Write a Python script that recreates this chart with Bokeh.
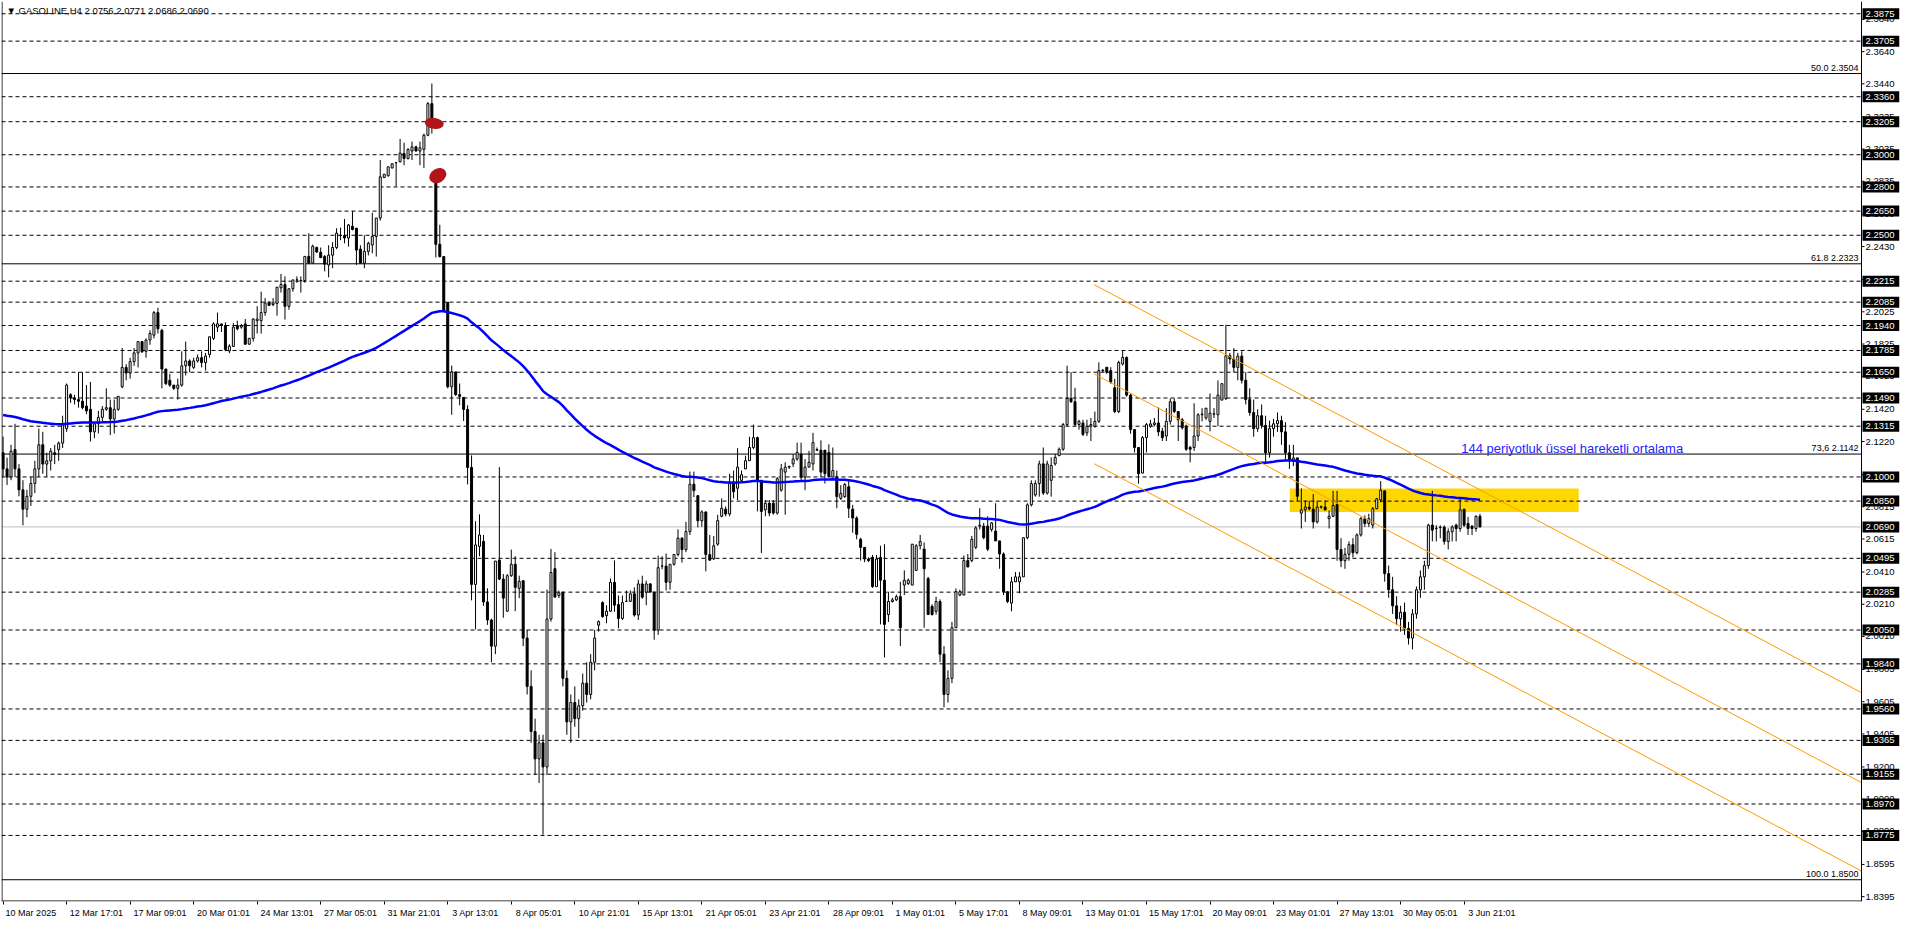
from bokeh.plotting import figure
from bokeh.models import Range1d, LinearAxis, FixedTicker, Label
from bokeh.core.properties import value
from bokeh.embed import file_html
from bokeh.resources import INLINE

# ---------------- data (H4 bars, index 0 = 10 Mar 2025 01:01) ----------------
opens = [
    2.115, 2.105, 2.100, 2.117, 2.105, 2.092, 2.080, 2.088, 2.096, 2.105,
    2.120, 2.108, 2.110, 2.115, 2.117, 2.121, 2.130, 2.151, 2.149, 2.148,
    2.147, 2.144, 2.142, 2.128, 2.133, 2.137, 2.142, 2.143, 2.136, 2.142,
    2.156, 2.168, 2.1645, 2.1716, 2.177, 2.184, 2.178, 2.185, 2.188, 2.202,
    2.191, 2.167, 2.160, 2.157, 2.155, 2.157, 2.169, 2.172, 2.168, 2.172,
    2.174, 2.171, 2.176, 2.186, 2.193, 2.195, 2.194, 2.1782, 2.181, 2.194,
    2.193, 2.195, 2.1824, 2.186, 2.197, 2.197, 2.202, 2.208, 2.207, 2.2077,
    2.2174, 2.2194, 2.2059, 2.2168, 2.2223, 2.2219, 2.2219, 2.2369, 2.2327, 2.2424,
    2.2394, 2.2369, 2.2316, 2.2377, 2.2424, 2.2499, 2.2499, 2.2483, 2.2556, 2.2544,
    2.2414, 2.2327, 2.2400, 2.244, 2.2493, 2.2607, 2.2859, 2.2869, 2.2918, 2.2951,
    2.2957, 2.3007, 2.2977, 2.3023, 2.3049, 2.3023, 2.3033, 2.3121, 2.3317, 2.2869,
    2.2444, 2.2368, 2.2084, 2.156, 2.1652, 2.1511, 2.1494, 2.1419, 2.1059, 2.0333,
    2.0569, 2.060, 2.0224, 2.0112, 1.995, 2.0484, 2.0366, 2.0167, 2.0387, 2.0458,
    2.0309, 2.0356, 2.000, 1.970, 1.942, 1.925, 1.935, 1.920, 2.0118, 2.0431,
    2.0264, 2.0285, 1.975, 1.948, 1.960, 1.950, 1.958, 1.972, 1.965, 1.985,
    2.008, 2.022, 2.0139, 2.0167, 2.0346, 2.0208, 2.0122, 2.0228, 2.0228, 2.0275,
    2.0143, 2.0336, 2.0285, 2.0336, 2.0285, 2.005, 2.0447, 2.0447, 2.0346, 2.0458,
    2.0519, 2.062, 2.0549, 2.0661, 2.0955, 2.0884, 2.0728, 2.0783, 2.0519, 2.0492,
    2.0583, 2.0756, 2.080, 2.077, 2.0969, 2.093, 2.0979, 2.105, 2.1101, 2.1183,
    2.1244, 2.0979, 2.0796, 2.0837, 2.0837, 2.0776, 2.0918, 2.103, 2.1061, 2.1081,
    2.1111, 2.1142, 2.0999, 2.1061, 2.1081, 2.1166, 2.1166, 2.1166, 2.1152, 2.0999,
    2.0999, 2.0867, 2.0878, 2.0939, 2.080, 2.0745, 2.0613, 2.0563, 2.0491, 2.0501,
    2.0319, 2.0501, 2.0359, 2.0146, 2.0227, 2.0237, 2.0257, 2.0329, 2.0339, 2.0329,
    2.042, 2.0573, 2.0552, 2.0369, 2.0197, 2.0166, 2.0227, 1.990, 1.965, 1.975,
    2.0064, 2.0267, 2.0267, 2.0481, 2.0481, 2.0563, 2.0695, 2.0695, 2.0695, 2.0674,
    2.0664, 2.0603, 2.0522, 2.0288, 2.0217, 2.0349, 2.0349, 2.038, 2.0623, 2.0827,
    2.0888, 2.0959, 2.1081, 2.090, 2.0979, 2.1081, 2.1132, 2.1172, 2.1325, 2.1487,
    2.1467, 2.1325, 2.1335, 2.1274, 2.1315, 2.1315, 2.1345, 2.166, 2.1681, 2.166,
    2.1553, 2.1406, 2.1701, 2.1742, 2.1508, 2.1294, 2.1183, 2.1024, 2.1244, 2.1315,
    2.1325, 2.1335, 2.1284, 2.1254, 2.1345, 2.1467, 2.1406, 2.1355, 2.1315, 2.1183,
    2.1183, 2.1254, 2.1386, 2.1366, 2.1345, 2.139, 2.1386, 2.1477, 2.1487, 2.1752,
    2.1732, 2.168, 2.175, 2.160, 2.148, 2.140, 2.130, 2.138, 2.132, 2.115,
    2.130, 2.133, 2.135, 2.128, 2.115, 2.110, 2.1118, 2.0775, 2.0796, 2.0813,
    2.080, 2.0721, 2.0813, 2.0813, 2.0741, 2.0756, 2.0829, 2.055, 2.048, 2.052,
    2.058, 2.053, 2.064, 2.0741, 2.0711, 2.0701, 2.0803, 2.0857, 2.0914, 2.040,
    2.030, 2.020, 2.012, 2.016, 2.006, 2.000, 2.015, 2.030, 2.038, 2.045,
    2.0701, 2.068, 2.0686, 2.0688, 2.060, 2.066, 2.0701, 2.068, 2.080, 2.0711,
    2.0695, 2.068, 2.0756,
]
highs = [
    2.125, 2.112, 2.120, 2.133, 2.108, 2.098, 2.092, 2.100, 2.110, 2.130,
    2.128, 2.115, 2.118, 2.120, 2.122, 2.138, 2.158, 2.152, 2.151, 2.165,
    2.165, 2.157, 2.159, 2.133, 2.141, 2.144, 2.155, 2.148, 2.148, 2.150,
    2.180, 2.170, 2.174, 2.180, 2.184, 2.184, 2.186, 2.191, 2.203, 2.205,
    2.192, 2.167, 2.164, 2.157, 2.161, 2.178, 2.184, 2.173, 2.174, 2.176,
    2.178, 2.177, 2.187, 2.196, 2.202, 2.195, 2.196, 2.1824, 2.1955, 2.197,
    2.195, 2.198, 2.1863, 2.1985, 2.206, 2.215, 2.211, 2.209, 2.211, 2.2178,
    2.226, 2.2245, 2.2168, 2.2223, 2.2245, 2.2245, 2.2369, 2.2513, 2.2442, 2.243,
    2.2424, 2.2377, 2.2438, 2.2458, 2.2544, 2.2548, 2.2601, 2.257, 2.265, 2.2544,
    2.2438, 2.25, 2.246, 2.264, 2.2607, 2.2967, 2.288, 2.2925, 2.2944, 2.2955,
    2.3098, 2.3075, 2.304, 2.3082, 2.3055, 2.3082, 2.3131, 2.3327, 2.3442, 2.2869,
    2.2565, 2.2368, 2.2084, 2.1691, 2.1652, 2.158, 2.1494, 2.1445, 2.1134, 2.0725,
    2.0768, 2.064, 2.0309, 2.012, 2.0478, 2.1061, 2.0397, 2.0397, 2.0549, 2.0508,
    2.0387, 2.0356, 2.005, 1.980, 1.950, 1.940, 1.940, 2.0301, 2.0553, 2.0533,
    2.0295, 2.0285, 1.980, 1.965, 1.970, 1.962, 1.978, 1.985, 1.990, 2.005,
    2.011, 2.0228, 2.0204, 2.037, 2.0482, 2.0264, 2.0264, 2.0295, 2.0295, 2.0315,
    2.0362, 2.0387, 2.0356, 2.0342, 2.0285, 2.0512, 2.0508, 2.0525, 2.0458, 2.0519,
    2.0675, 2.0626, 2.0722, 2.1033, 2.1033, 2.0884, 2.0793, 2.0783, 2.064, 2.0633,
    2.0765, 2.0867, 2.0817, 2.102, 2.104, 2.1179, 2.104, 2.1132, 2.125, 2.1325,
    2.125, 2.0979, 2.0857, 2.0857, 2.0857, 2.0999, 2.1081, 2.1091, 2.107, 2.1142,
    2.1213, 2.1213, 2.1111, 2.1162, 2.1274, 2.1183, 2.1227, 2.1166, 2.1203, 2.1183,
    2.104, 2.0949, 2.0963, 2.0979, 2.0827, 2.0756, 2.0623, 2.0563, 2.0501, 2.0516,
    2.0516, 2.0573, 2.0583, 2.0288, 2.025, 2.027, 2.0349, 2.042, 2.037, 2.0583,
    2.0583, 2.064, 2.0593, 2.038, 2.021, 2.0257, 2.024, 1.995, 1.980, 2.010,
    2.0308, 2.030, 2.0512, 2.0522, 2.0634, 2.0695, 2.0806, 2.0715, 2.0756, 2.072,
    2.0837, 2.0603, 2.0532, 2.0288, 2.038, 2.041, 2.041, 2.0623, 2.0837, 2.0979,
    2.0979, 2.1101, 2.1183, 2.1101, 2.1122, 2.1142, 2.1183, 2.1335, 2.1691, 2.165,
    2.1553, 2.1355, 2.1355, 2.1355, 2.1366, 2.1406, 2.1711, 2.167, 2.1681, 2.1681,
    2.1609, 2.1721, 2.1782, 2.1748, 2.1518, 2.1294, 2.1183, 2.1254, 2.1335, 2.1355,
    2.1366, 2.1431, 2.1305, 2.1427, 2.1487, 2.1487, 2.1406, 2.1366, 2.1325, 2.1193,
    2.1457, 2.1396, 2.1427, 2.1427, 2.1518, 2.1427, 2.1599, 2.1579, 2.1945, 2.177,
    2.180, 2.177, 2.178, 2.165, 2.155, 2.148, 2.142, 2.145, 2.138, 2.135,
    2.136, 2.140, 2.138, 2.134, 2.120, 2.1199, 2.112, 2.0929, 2.0853, 2.0853,
    2.0894, 2.0853, 2.0823, 2.0853, 2.0792, 2.0914, 2.0914, 2.062, 2.056, 2.060,
    2.062, 2.065, 2.0752, 2.0762, 2.0772, 2.0813, 2.087, 2.0975, 2.0914, 2.045,
    2.038, 2.026, 2.020, 2.022, 2.010, 2.018, 2.032, 2.042, 2.048, 2.071,
    2.0914, 2.070, 2.070, 2.070, 2.068, 2.070, 2.071, 2.0874, 2.080, 2.0752,
    2.070, 2.0762, 2.0771,
]
lows = [
    2.100, 2.095, 2.098, 2.100, 2.088, 2.070, 2.075, 2.082, 2.090, 2.100,
    2.102, 2.100, 2.104, 2.108, 2.110, 2.118, 2.128, 2.146, 2.145, 2.143,
    2.142, 2.139, 2.122, 2.124, 2.127, 2.134, 2.141, 2.126, 2.127, 2.141,
    2.155, 2.160, 2.161, 2.169, 2.168, 2.177, 2.174, 2.182, 2.186, 2.189,
    2.155, 2.157, 2.156, 2.154, 2.148, 2.156, 2.163, 2.165, 2.167, 2.171,
    2.168, 2.166, 2.174, 2.185, 2.190, 2.190, 2.178, 2.1768, 2.1808, 2.191,
    2.192, 2.182, 2.182, 2.184, 2.189, 2.189, 2.200, 2.206, 2.206, 2.2001,
    2.2144, 2.1977, 2.2038, 2.215, 2.2205, 2.2144, 2.2205, 2.2321, 2.2321, 2.239,
    2.2361, 2.2276, 2.2239, 2.2296, 2.2414, 2.247, 2.245, 2.243, 2.253, 2.2316,
    2.2327, 2.2296, 2.2375, 2.2388, 2.2368, 2.2591, 2.2855, 2.2865, 2.2915, 2.2804,
    2.2951, 2.2935, 2.297, 2.2967, 2.302, 2.2935, 2.2918, 2.3115, 2.3131, 2.2362,
    2.2362, 2.2028, 2.155, 2.1386, 2.1504, 2.1445, 2.1347, 2.0954, 2.0234, 2.0054,
    2.0508, 2.020, 2.0082, 1.985, 1.990, 2.036, 2.0126, 2.0163, 2.038, 2.0167,
    2.0248, 1.995, 1.965, 1.935, 1.915, 1.910, 1.878, 1.915, 2.0102, 2.0254,
    2.0248, 1.970, 1.940, 1.935, 1.945, 1.938, 1.955, 1.960, 1.962, 1.980,
    2.004, 2.0126, 2.0092, 2.0163, 2.0163, 2.0061, 2.0112, 2.0224, 2.0224, 2.0133,
    2.0112, 2.0244, 2.0204, 2.0285, 1.999, 2.002, 2.0427, 2.0295, 2.030, 2.045,
    2.0508, 2.0468, 2.0533, 2.064, 2.0874, 2.0687, 2.0691, 2.0414, 2.0478, 2.0484,
    2.0573, 2.075, 2.0756, 2.0756, 2.0867, 2.0857, 2.0969, 2.105, 2.1101, 2.1172,
    2.0786, 2.0528, 2.0756, 2.0756, 2.0766, 2.0766, 2.0908, 2.0766, 2.105, 2.1061,
    2.1101, 2.0979, 2.0918, 2.1061, 2.104, 2.1162, 2.0999, 2.0959, 2.0999, 2.0999,
    2.0806, 2.0857, 2.087, 2.0745, 2.0654, 2.0613, 2.0481, 2.0471, 2.0471, 2.0312,
    2.0319, 2.0085, 1.988, 2.010, 2.022, 2.023, 1.995, 2.0267, 2.0329, 2.0329,
    2.042, 2.055, 2.0064, 2.0146, 2.014, 2.0146, 1.985, 1.957, 1.960, 1.972,
    2.0064, 2.026, 2.0267, 2.0441, 2.0471, 2.0552, 2.0674, 2.0613, 2.054, 2.066,
    2.0603, 2.043, 2.0267, 2.0217, 2.0166, 2.0349, 2.0278, 2.038, 2.0613, 2.0817,
    2.0878, 2.0878, 2.0888, 2.089, 2.0878, 2.1071, 2.1132, 2.1162, 2.1315, 2.146,
    2.1315, 2.1294, 2.1254, 2.1254, 2.1223, 2.1305, 2.1335, 2.165, 2.164, 2.1579,
    2.1396, 2.1396, 2.1691, 2.1498, 2.1268, 2.1152, 2.0959, 2.1024, 2.1152, 2.1305,
    2.1315, 2.1254, 2.1223, 2.1223, 2.1325, 2.1396, 2.1223, 2.1294, 2.1162, 2.1091,
    2.1162, 2.1223, 2.1345, 2.1355, 2.1284, 2.1366, 2.1315, 2.1477, 2.1477, 2.170,
    2.165, 2.160, 2.158, 2.145, 2.138, 2.125, 2.128, 2.130, 2.108, 2.112,
    2.125, 2.128, 2.120, 2.110, 2.105, 2.1067, 2.085, 2.068, 2.0721, 2.0792,
    2.068, 2.0711, 2.0803, 2.0792, 2.068, 2.0752, 2.048, 2.044, 2.043, 2.048,
    2.050, 2.052, 2.063, 2.069, 2.069, 2.068, 2.080, 2.0843, 2.035, 2.025,
    2.015, 2.008, 2.004, 2.002, 1.996, 1.993, 2.012, 2.025, 2.030, 2.043,
    2.060, 2.060, 2.062, 2.058, 2.055, 2.060, 2.060, 2.066, 2.069, 2.064,
    2.064, 2.066, 2.0686,
]
closes = [
    2.105, 2.100, 2.116, 2.105, 2.092, 2.080, 2.088, 2.096, 2.105, 2.120,
    2.108, 2.110, 2.116, 2.114, 2.121, 2.133, 2.157, 2.149, 2.148, 2.147,
    2.143, 2.141, 2.128, 2.133, 2.137, 2.142, 2.143, 2.136, 2.142, 2.150,
    2.168, 2.1645, 2.1716, 2.177, 2.184, 2.1777, 2.185, 2.189, 2.202, 2.192,
    2.167, 2.158, 2.157, 2.155, 2.157, 2.169, 2.172, 2.169, 2.172, 2.174,
    2.171, 2.175, 2.187, 2.195, 2.195, 2.194, 2.179, 2.1812, 2.193, 2.192,
    2.194, 2.1824, 2.186, 2.198, 2.198, 2.202, 2.208, 2.2065, 2.208, 2.2178,
    2.2194, 2.2059, 2.2168, 2.2223, 2.2223, 2.2219, 2.2369, 2.2327, 2.2432, 2.2397,
    2.2361, 2.2321, 2.2377, 2.2424, 2.2513, 2.2499, 2.2483, 2.2564, 2.2536, 2.2408,
    2.2327, 2.2400, 2.245, 2.2493, 2.2607, 2.2863, 2.2879, 2.2925, 2.2944, 2.2951,
    2.301, 2.2977, 2.3033, 2.3049, 2.3023, 2.3043, 2.3121, 2.3317, 2.3187, 2.2444,
    2.2368, 2.2034, 2.156, 2.1652, 2.1511, 2.150, 2.1419, 2.1059, 2.0333, 2.0578,
    2.064, 2.0224, 2.0112, 1.995, 2.0478, 2.0366, 2.0248, 2.0387, 2.0458, 2.0315,
    2.0352, 2.000, 1.970, 1.942, 1.925, 1.935, 1.920, 2.0118, 2.0407, 2.0254,
    2.0281, 1.975, 1.948, 1.960, 1.950, 1.958, 1.972, 1.965, 1.985, 2.000,
    2.0102, 2.0133, 2.0167, 2.0346, 2.0204, 2.0122, 2.022, 2.0228, 2.0275, 2.0143,
    2.0336, 2.0254, 2.0336, 2.0285, 2.005, 2.0437, 2.0447, 2.0346, 2.0458, 2.0519,
    2.062, 2.0549, 2.0661, 2.0955, 2.0915, 2.0728, 2.0783, 2.0519, 2.0484, 2.0573,
    2.0729, 2.0806, 2.077, 2.0959, 2.0908, 2.1061, 2.1014, 2.1101, 2.1183, 2.1244,
    2.0979, 2.0786, 2.0837, 2.0776, 2.0776, 2.0989, 2.105, 2.1061, 2.1065, 2.1111,
    2.1152, 2.0999, 2.1061, 2.1091, 2.1213, 2.117, 2.103, 2.102, 2.1004, 2.104,
    2.0878, 2.0898, 2.0953, 2.0806, 2.0745, 2.0644, 2.0563, 2.0491, 2.0481, 2.0319,
    2.0491, 2.0359, 2.0085, 2.0227, 2.0237, 2.0257, 2.0064, 2.0359, 2.0359, 2.0583,
    2.0573, 2.060, 2.043, 2.0146, 2.0146, 2.0227, 1.990, 1.965, 1.975, 2.0064,
    2.0288, 2.0288, 2.0481, 2.0441, 2.0613, 2.0684, 2.070, 2.0623, 2.0552, 2.0715,
    2.0603, 2.0522, 2.0288, 2.0227, 2.0349, 2.038, 2.038, 2.0623, 2.0827, 2.0959,
    2.0959, 2.1081, 2.090, 2.1081, 2.1071, 2.1122, 2.1172, 2.1325, 2.1487, 2.1467,
    2.1325, 2.1345, 2.1264, 2.1315, 2.1325, 2.1345, 2.166, 2.1662, 2.165, 2.1589,
    2.1406, 2.1711, 2.1742, 2.1508, 2.1294, 2.1183, 2.102, 2.1244, 2.1325, 2.1329,
    2.1335, 2.128, 2.1244, 2.1345, 2.1467, 2.1406, 2.1355, 2.1305, 2.1172, 2.1172,
    2.1254, 2.1386, 2.139, 2.1427, 2.1396, 2.1392, 2.1508, 2.1579, 2.1752, 2.1732,
    2.168, 2.175, 2.160, 2.148, 2.140, 2.130, 2.138, 2.132, 2.115, 2.130,
    2.133, 2.135, 2.128, 2.115, 2.110, 2.1118, 2.088, 2.0796, 2.0813, 2.0803,
    2.0721, 2.0813, 2.0815, 2.0796, 2.0756, 2.0823, 2.055, 2.048, 2.052, 2.058,
    2.053, 2.064, 2.0741, 2.0711, 2.0741, 2.0803, 2.0864, 2.0918, 2.040, 2.030,
    2.020, 2.012, 2.016, 2.006, 2.000, 2.015, 2.030, 2.038, 2.045, 2.0701,
    2.067, 2.0682, 2.0688, 2.060, 2.066, 2.069, 2.068, 2.0796, 2.0701, 2.068,
    2.068, 2.0756, 2.069,
]

ema_period = 144
ema_start = 2.1385          # value of the moving average at the first visible bar

time_labels = ["10 Mar 2025", "12 Mar 17:01", "17 Mar 09:01", "20 Mar 01:01", "24 Mar 13:01",
               "27 Mar 05:01", "31 Mar 21:01", "3 Apr 13:01", "8 Apr 05:01", "10 Apr 21:01",
               "15 Apr 13:01", "21 Apr 05:01", "23 Apr 21:01", "28 Apr 09:01", "1 May 01:01",
               "5 May 17:01", "8 May 09:01", "13 May 01:01", "15 May 17:01", "20 May 09:01",
               "23 May 01:01", "27 May 13:01", "30 May 05:01", "3 Jun 21:01"]
bars_per_label = 16

price_ticks = [2.3840, 2.3640, 2.3440, 2.3235, 2.3035, 2.2835, 2.2630, 2.2430, 2.2225, 2.2025,
               2.1825, 2.1625, 2.1420, 2.1220, 2.1015, 2.0815, 2.0615, 2.0410, 2.0210, 2.0010,
               1.9805, 1.9605, 1.9405, 1.9200, 1.9000, 1.8800, 1.8595, 1.8395]

level_lines = [2.3875, 2.3705, 2.3360, 2.3205, 2.3000, 2.2800, 2.2650, 2.2500, 2.2215, 2.2085,
               2.1940, 2.1785, 2.1650, 2.1490, 2.1315, 2.1000, 2.0850, 2.0495, 2.0285, 2.0050,
               1.9840, 1.9560, 1.9365, 1.9155, 1.8970, 1.8775]
fib_levels = [2.3504, 2.2323, 2.1142, 1.8500]
fib_names = ["50.0", "61.8", "73,6", "100.0"]
bid_price = 2.0690

channel_x = [274.85, 468.1]
channel_upper = [2.2193, 1.9661]
channel_middle = [2.1639, 1.9103]
channel_lower = [2.1082, 1.8554]

zone_x = [324.1, 396.85]
zone_y = [2.0782, 2.0929]

marks_x = [108.6, 109.5]
marks_y = [2.3195, 2.2870]

title_text = "\u25bc GASOLINE,H4  2.0756 2.0771 2.0686 2.0690"
ma_text = "144 periyotluk \u00fcssel hareketli ortalama"

# ---------------- geometry ----------------
W, H = 1900, 920
BL, BR, BT, BB = 1, 1, 1, 15
X0, X1 = -0.4, 468.1          # chart area in bar units
Y0, Y1 = 1.8365, 2.3951       # chart area in price units
AXIS_PX = 38                  # width of the price scale strip
FONT = "Liberation Sans"

frame_w = W - BL - BR
frame_h = H - BT - BB
ppb = (frame_w - AXIS_PX) / (X1 - X0)     # pixels per bar
XE = X0 + frame_w / ppb                   # right end incl. price scale strip
ppy = frame_h / (Y1 - Y0)                 # pixels per price unit

p = figure(width=W, height=H, x_range=Range1d(X0, XE), y_range=Range1d(Y0, Y1),
           output_backend="svg", toolbar_location=None,
           x_axis_location=None, y_axis_location=None,
           min_border_left=BL, min_border_right=BR, min_border_top=BT, min_border_bottom=BB,
           background_fill_color="white", border_fill_color="white")
p.grid.visible = False
p.outline_line_color = None

n = min(len(opens), len(highs), len(lows), len(closes))
idx = list(range(n))
o = opens[:n]
c = closes[:n]
hi = [max(highs[i], o[i], c[i]) for i in idx]
lo = [min(lows[i], o[i], c[i]) for i in idx]

# yellow zone (behind everything)
p.quad(left=[zone_x[0]], right=[zone_x[1]], bottom=[zone_y[0]], top=[zone_y[1]],
       fill_color="#FFD700", line_color=None)

# dashed horizontal levels
p.multi_line(xs=[[X0, X1] for _ in level_lines], ys=[[v, v] for v in level_lines],
             line_color="black", line_width=1, line_dash="4 3")
# fibonacci solid levels
p.multi_line(xs=[[X0, X1] for _ in fib_levels], ys=[[v, v] for v in fib_levels],
             line_color="black", line_width=1)
# bid line
p.line(x=[X0, X1], y=[bid_price, bid_price], line_color="#C0C0C0", line_width=1)

# candles
p.segment(x0=idx, y0=lo, x1=idx, y1=hi, line_color="black", line_width=1)
p.vbar(x=idx, top=[max(a, b) for a, b in zip(o, c)], bottom=[min(a, b) for a, b in zip(o, c)],
       width=0.5, fill_color=["white" if cc >= oo else "black" for oo, cc in zip(o, c)],
       line_color="black", line_width=1)

# 144 EMA
alpha = 2.0 / (ema_period + 1)
ema = [ema_start]
for v in c[1:]:
    ema.append(ema[-1] + alpha * (v - ema[-1]))
p.line(x=idx, y=ema, line_color="#0000FF", line_width=2.5)

# channel
for ys in (channel_upper, channel_middle, channel_lower):
    p.line(x=channel_x, y=ys, line_color="#FF9900", line_width=1)

# red marks
p.ellipse(x=marks_x, y=marks_y, width=[19, 18], height=[11, 14], angle=[-0.15, 0.55],
          width_units="screen", height_units="screen", fill_color="#B3141B", line_color=None)

# chart borders: left edge, bottom edge, price scale line
xl = X0 + 0.5 / ppb
yb = Y0 + 0.5 / ppy
p.segment(x0=[xl, X0, X1], y0=[Y0, yb, Y0], x1=[xl, X1, X1], y1=[Y1, yb, Y1],
          line_color="black", line_width=1)

# price scale: ticks and labels
p.segment(x0=[X1] * len(price_ticks), y0=price_ticks,
          x1=[X1 + 3 / ppb] * len(price_ticks), y1=price_ticks, line_color="black", line_width=1)
p.text(x=[X1 + 4 / ppb] * len(price_ticks), y=price_ticks, text=[f"{t:.4f}" for t in price_ticks],
       text_font=value(FONT), text_font_size="9.5px", text_color="black",
       text_align="left", text_baseline="middle")

# black price boxes on the scale
box_levels = level_lines + [bid_price]
p.rect(x=[X1 + 19.5 / ppb] * len(box_levels), y=box_levels, width=37, height=11,
       width_units="screen", height_units="screen", fill_color="black", line_color=None)
p.text(x=[X1 + 4 / ppb] * len(box_levels), y=box_levels, text=[f"{v:.4f}" for v in box_levels],
       text_font=value(FONT), text_font_size="9.5px", text_color="white",
       text_align="left", text_baseline="middle")

# bottom time axis: small tick at bar, label to the right of it
tick_bars = [i * bars_per_label for i in range(len(time_labels))]
centers = []
for tb, lab in zip(tick_bars, time_labels):
    wpx = 4.6 * len(lab)
    centers.append(round((tb + (2 + wpx / 2) / ppb) * 4) / 4)
xax = LinearAxis(ticker=FixedTicker(ticks=centers, minor_ticks=tick_bars),
                 major_label_overrides={cc: lab for cc, lab in zip(centers, time_labels)})
xax.major_tick_out = 0
xax.major_tick_in = 0
xax.minor_tick_out = 3
xax.minor_tick_in = 0
xax.minor_tick_line_color = "black"
xax.axis_line_color = None
xax.major_label_standoff = 3
xax.major_label_text_font = FONT
xax.major_label_text_font_size = "9px"
xax.major_label_text_color = "black"
p.add_layout(xax, "below")

# fibonacci labels
for v, name in zip(fib_levels, fib_names):
    p.add_layout(Label(x=X1, y=v, x_offset=-3, y_offset=1, text=f"{name} {v:.4f}",
                       text_align="right", text_baseline="bottom", text_font=FONT,
                       text_font_size="9px", text_color="black"))

# title and MA caption
p.add_layout(Label(x=X0, y=Y1, x_offset=5, y_offset=-3, text=title_text, text_align="left",
                   text_baseline="top", text_font=FONT, text_font_size="9.5px", text_color="black"))
p.add_layout(Label(x=367.3, y=2.1175, text=ma_text, text_align="left", text_baseline="alphabetic",
                   text_font=FONT, text_font_size="13px", text_color="#2424FF"))

open("out.html", "w").write(file_html(p, INLINE))
